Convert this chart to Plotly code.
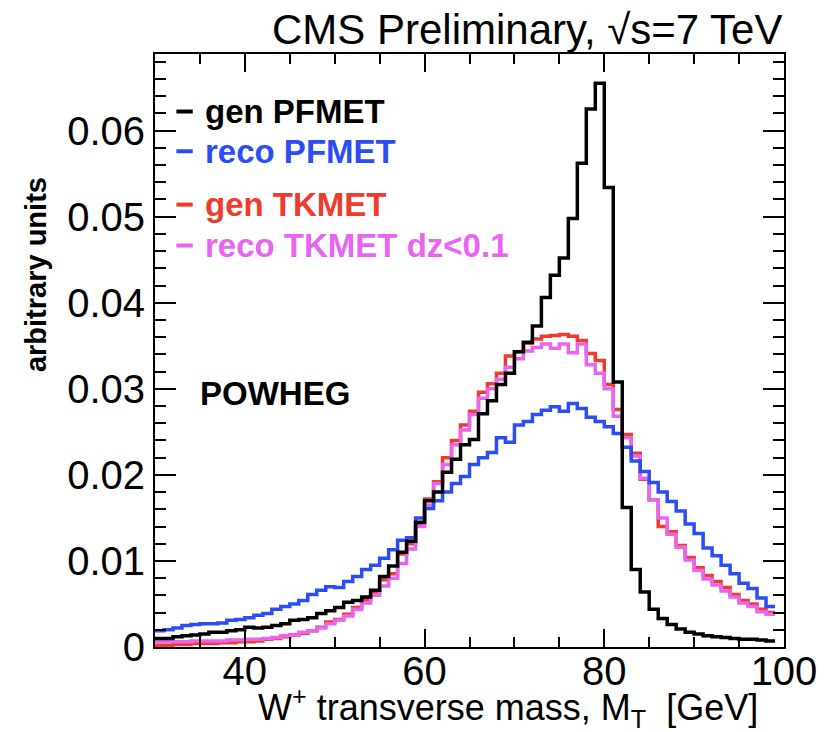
import plotly.graph_objects as go

# W+ transverse mass, 1 GeV bins from 30 to 99 GeV
bin_edges = list(range(30, 100))

gen_pfmet = [
    0.0010, 0.0010, 0.0012, 0.0013, 0.0014, 0.0015, 0.0017, 0.0017, 0.0019, 0.0020,
    0.0023, 0.0022, 0.0023, 0.0025, 0.0027, 0.0031, 0.0032, 0.0034, 0.0039, 0.0042,
    0.0046, 0.0052, 0.0054, 0.0058, 0.0066, 0.0082, 0.0094, 0.0110, 0.0123, 0.0145,
    0.0170, 0.0180, 0.0203, 0.0218, 0.0235, 0.0241, 0.0271, 0.0286, 0.0305, 0.0318,
    0.0343, 0.0354, 0.0373, 0.0406, 0.0432, 0.0452, 0.0498, 0.0562, 0.0625, 0.0655,
    0.0534, 0.0308, 0.0162, 0.0090, 0.0064, 0.0044, 0.0033, 0.0026, 0.0021, 0.0017,
    0.0015, 0.0013, 0.0012, 0.0011, 0.0010, 0.0009, 0.0009, 0.0008, 0.0007,
]

reco_pfmet = [
    0.0019, 0.0020, 0.0022, 0.0025, 0.0026, 0.0027, 0.0027, 0.0028, 0.0031, 0.0032,
    0.0034, 0.0037, 0.0039, 0.0044, 0.0047, 0.0050, 0.0054, 0.0061, 0.0066, 0.0070,
    0.0069, 0.0076, 0.0082, 0.0090, 0.0095, 0.0103, 0.0113, 0.0124, 0.0127, 0.0150,
    0.0161, 0.0170, 0.0180, 0.0190, 0.0198, 0.0212, 0.0220, 0.0226, 0.0243, 0.0238,
    0.0258, 0.0262, 0.0270, 0.0275, 0.0279, 0.0274, 0.0283, 0.0277, 0.0267, 0.0262,
    0.0256, 0.0248, 0.0232, 0.0216, 0.0204, 0.0191, 0.0180, 0.0169, 0.0158, 0.0143,
    0.0132, 0.0115, 0.0106, 0.0095, 0.0085, 0.0074, 0.0068, 0.0057, 0.0047,
]

gen_tkmet = [
    0.0002, 0.0002, 0.0003, 0.0003, 0.0004, 0.0004, 0.0004, 0.0005, 0.0005, 0.0006,
    0.0006, 0.0007, 0.0009, 0.0010, 0.0012, 0.0014, 0.0016, 0.0019, 0.0023, 0.0029,
    0.0032, 0.0038, 0.0046, 0.0055, 0.0064, 0.0078, 0.0085, 0.0108, 0.0120, 0.0143,
    0.0172, 0.0192, 0.0220, 0.0240, 0.0258, 0.0274, 0.0296, 0.0306, 0.0318, 0.0338,
    0.0343, 0.0353, 0.0358, 0.0361, 0.0362, 0.0363, 0.0361, 0.0356, 0.0341, 0.0333,
    0.0305, 0.0276, 0.0247, 0.0225, 0.0195, 0.0171, 0.0140, 0.0134, 0.0118, 0.0104,
    0.0092, 0.0083, 0.0076, 0.0069, 0.0061, 0.0054, 0.0050, 0.0044, 0.0040,
]

reco_tkmet_dz = [
    0.0006, 0.0006, 0.0006, 0.0006, 0.0007, 0.0007, 0.0007, 0.0007, 0.0008, 0.0008,
    0.0009, 0.0009, 0.0010, 0.0011, 0.0013, 0.0014, 0.0017, 0.0019, 0.0022, 0.0027,
    0.0031, 0.0036, 0.0044, 0.0051, 0.0060, 0.0071, 0.0080, 0.0097, 0.0114, 0.0140,
    0.0165, 0.0190, 0.0212, 0.0235, 0.0252, 0.0270, 0.0289, 0.0300, 0.0311, 0.0325,
    0.0335, 0.0344, 0.0348, 0.0352, 0.0347, 0.0352, 0.0342, 0.0352, 0.0328, 0.0318,
    0.0300, 0.0268, 0.0243, 0.0222, 0.0196, 0.0171, 0.0150, 0.0131, 0.0116, 0.0101,
    0.0089, 0.0079, 0.0072, 0.0065, 0.0058, 0.0051, 0.0047, 0.0041, 0.0038,
]

series = [
    ("gen TKMET", gen_tkmet, "#ef3b2c"),
    ("reco TKMET dz<0.1", reco_tkmet_dz, "#e865f0"),
    ("reco PFMET", reco_pfmet, "#2c4cf6"),
    ("gen PFMET", gen_pfmet, "#000000"),
]

FONT = "Liberation Sans, Arial, Helvetica, sans-serif"

fig = go.Figure()
for name, vals, color in series:
    fig.add_trace(go.Scatter(
        x=bin_edges,
        y=vals + [vals[-1]],
        mode="lines",
        line=dict(shape="hv", color=color, width=3.5),
        name=name,
        showlegend=False,
    ))

# legend drawn inside the frame: short coloured dash + coloured bold label
legend_rows = [
    ("gen PFMET", "#000000", 0.903),
    ("reco PFMET", "#2c4cf6", 0.836),
    ("gen TKMET", "#ef3b2c", 0.746),
    ("reco TKMET dz<0.1", "#e865f0", 0.677),
]
for label, color, yp in legend_rows:
    fig.add_shape(type="line", xref="paper", yref="paper",
                  x0=0.034, x1=0.060, y0=yp, y1=yp,
                  line=dict(color=color, width=4))
    fig.add_annotation(text=label, xref="paper", yref="paper",
                       x=0.077, y=yp, xanchor="left", yanchor="middle",
                       showarrow=False,
                       font=dict(family=FONT, size=33, color=color, weight="bold"))

fig.add_annotation(text="POWHEG", xref="paper", yref="paper",
                   x=0.069, y=0.428, xanchor="left", yanchor="middle",
                   showarrow=False,
                   font=dict(family=FONT, size=33, color="#000000", weight="bold"))

fig.add_annotation(text="CMS Preliminary, √s=7 TeV", xref="paper", yref="paper",
                   x=1.0, y=1.041, xanchor="right", yanchor="middle",
                   showarrow=False,
                   font=dict(family=FONT, size=42, color="#000000"))

fig.add_annotation(text="W<sup>+</sup> transverse mass, M<sub>T</sub>  [GeV]",
                   xref="paper", yref="paper",
                   x=0.962, y=-0.102, xanchor="right", yanchor="middle",
                   showarrow=False,
                   font=dict(family=FONT, size=36, color="#000000"))

fig.add_annotation(text="arbitrary units", xref="paper", yref="paper",
                   x=-0.19, y=0.628, xanchor="center", yanchor="middle",
                   textangle=-90, showarrow=False,
                   font=dict(family=FONT, size=29, color="#000000", weight="bold"))

axis_common = dict(
    showline=True, linecolor="#000000", linewidth=2, mirror="ticks",
    ticks="inside", tickcolor="#000000", tickwidth=2,
    showgrid=False, zeroline=False,
    tickfont=dict(family=FONT, size=40, color="#000000"),
)

fig.update_xaxes(
    range=[30, 100], tick0=0, dtick=20, ticklen=18, ticklabelstandoff=-12,
    minor=dict(ticks="inside", dtick=5, ticklen=10, tickcolor="#000000", tickwidth=2),
    **axis_common,
)
fig.update_yaxes(
    range=[0, 0.0689], tick0=0, dtick=0.01, ticklen=21,
    minor=dict(ticks="inside", dtick=0.002, ticklen=11, tickcolor="#000000", tickwidth=2),
    **axis_common,
)

fig.update_layout(
    width=829, height=732,
    margin=dict(l=155, r=38, t=54, b=85),
    plot_bgcolor="#ffffff", paper_bgcolor="#ffffff",
    showlegend=False,
)

fig.write_html("out.html")
